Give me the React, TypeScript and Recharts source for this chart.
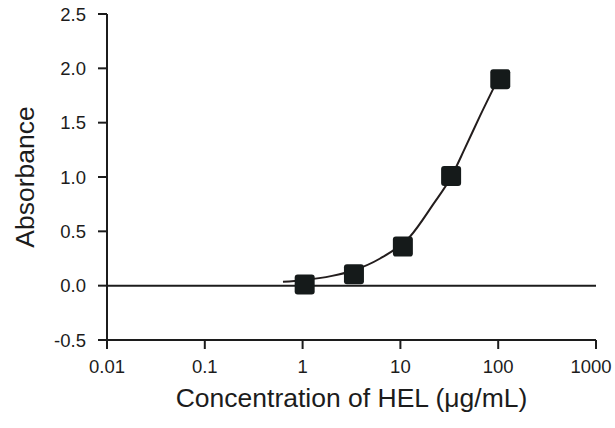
import React from "react";
import {
  ComposedChart,
  XAxis,
  YAxis,
  Scatter,
  Line,
  ReferenceLine,
  Label,
} from "recharts";

// Measured points (concentration µg/mL, absorbance)
const pointConc = [1.05, 3.35, 10.6, 33, 105];
const pointAbs = [0.01, 0.105, 0.36, 1.01, 1.9];

// Fitted curve
const curveConc = [0.63, 1.0, 2.0, 3.3, 6.2, 12.5, 21.7, 33, 46, 65, 97];
const curveAbs = [0.035, 0.05, 0.09, 0.14, 0.25, 0.45, 0.75, 1.0, 1.27, 1.56, 1.88];

const xTicks = [0.01, 0.1, 1, 10, 100, 1000];
const yTicks = [-0.5, 0, 0.5, 1, 1.5, 2, 2.5];

const points = pointConc.map((x, i) => ({ x, y: pointAbs[i] }));
const curve = curveConc.map((x, i) => ({ x, y: curveAbs[i] }));

const FONT = "'Liberation Sans', Arial, sans-serif";
const INK = "#1c1c1c";

const SquareMarker = (props: any) => {
  const { cx, cy } = props;
  const s = 20;
  return (
    <rect x={cx - s / 2} y={cy - s / 2} width={s} height={s} rx={3} ry={3} fill="#151a1a" />
  );
};

const XTick = (props: any) => {
  const { x, y, payload, index, visibleTicksCount } = props;
  const isLast = index === (visibleTicksCount ?? xTicks.length) - 1;
  return (
    <text
      x={x - (isLast ? 5 : 0)}
      y={y}
      dy="0.71em"
      textAnchor="middle"
      fontFamily={FONT}
      fontSize={18.5}
      fill={INK}
    >
      {String(payload.value)}
    </text>
  );
};

const YTitle = (props: any) => {
  const vb = props.viewBox;
  const x = 25;
  const y = vb.y + vb.height / 2;
  return (
    <text
      x={x}
      y={y}
      transform={`rotate(-90, ${x}, ${y})`}
      textAnchor="middle"
      dominantBaseline="central"
      fontFamily={FONT}
      fontSize={26.5}
      fill={INK}
    >
      Absorbance
    </text>
  );
};

export default function App() {
  return (
    <div style={{ position: "absolute", left: 0, top: 0, width: 615, height: 428, background: "#fff" }}>
      <ComposedChart
        width={615}
        height={428}
        margin={{ top: 14, right: 19, left: 0, bottom: 0 }}
      >
        <XAxis
          dataKey="x"
          type="number"
          scale="log"
          domain={[0.01, 1000]}
          ticks={xTicks}
          allowDataOverflow
          height={88}
          stroke={INK}
          strokeWidth={2}
          tickSize={9}
          tickMargin={11}
          tick={<XTick />}
        >
          <Label
            value="Concentration of HEL (μg/mL)"
            position="insideBottom"
            offset={21}
            style={{ fontSize: 26.5, fontFamily: FONT, fill: INK }}
          />
        </XAxis>
        <XAxis
          xAxisId="top"
          orientation="top"
          dataKey="x"
          type="number"
          scale="log"
          domain={[0.01, 1000]}
          allowDataOverflow
          height={0}
          tick={false}
          tickLine={false}
          stroke={INK}
          strokeWidth={2}
        />
        <YAxis
          type="number"
          domain={[-0.5, 2.5]}
          ticks={yTicks}
          allowDataOverflow
          width={107}
          stroke={INK}
          strokeWidth={2}
          tickSize={9}
          tickMargin={12}
          tick={{ fill: INK, fontSize: 18.5, fontFamily: FONT }}
          tickFormatter={(v: number) => v.toFixed(1)}
        >
          <Label content={<YTitle />} />
        </YAxis>
        <YAxis
          yAxisId="right"
          orientation="right"
          type="number"
          domain={[-0.5, 2.5]}
          width={0}
          tick={false}
          tickLine={false}
          stroke={INK}
          strokeWidth={2}
        />
        <ReferenceLine y={0} stroke={INK} strokeWidth={2} ifOverflow="extendDomain" />
        <Line
          data={curve}
          dataKey="y"
          type="monotone"
          stroke="#231d1d"
          strokeWidth={2}
          dot={false}
          isAnimationActive={false}
        />
        <Scatter data={points} dataKey="y" shape={<SquareMarker />} isAnimationActive={false} />
      </ComposedChart>
    </div>
  );
}
